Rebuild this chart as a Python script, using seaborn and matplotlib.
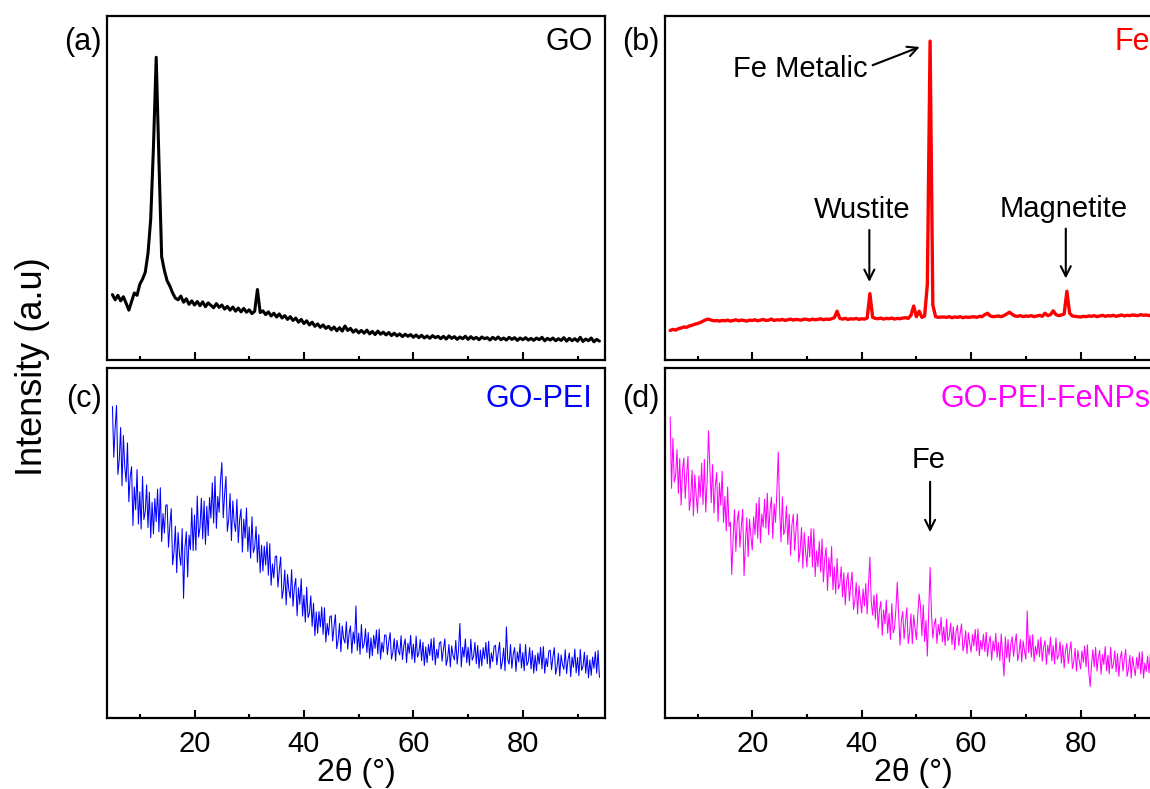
import numpy as np
import pandas as pd
import seaborn as sns
import matplotlib.pyplot as plt
from matplotlib.ticker import MultipleLocator

sns.set_style("ticks")
plt.rcParams['font.family'] = ['Liberation Sans', 'DejaVu Sans']
plt.rcParams.update({"text.color": "black", "axes.labelcolor": "black",
                     "xtick.color": "black", "axes.edgecolor": "black"})

# 2theta grids (deg)
theta_coarse = np.arange(5, 94.01, 0.5)    # GO, Fe
theta_fine = np.arange(5, 94.01, 0.25)     # GO-PEI, GO-PEI-FeNPs

# intensities, in % of panel height
go = [19.0, 17.5, 18.8, 17.2, 18.4, 16.5, 14.5, 17.0, 19.5, 18.8,
      22.0, 23.5, 25.5, 31.0, 41.0, 62.0, 88.0, 58.0, 30.0, 26.0,
      23.0, 21.5, 19.5, 18.0, 17.5, 18.6, 16.8, 17.8, 16.2, 17.2,
      16.0, 17.0, 15.8, 16.9, 15.5, 16.6, 15.9, 15.2, 16.4, 15.3,
      16.0, 14.8, 15.6, 14.5, 15.4, 14.2, 15.1, 14.0, 15.0, 13.9,
      14.6, 13.5, 14.2, 20.5, 13.8, 14.3, 13.2, 14.0, 12.8, 13.6,
      12.5, 13.4, 12.2, 12.9, 11.8, 12.6, 11.5, 12.2, 11.0, 11.8,
      10.6, 11.4, 10.2, 11.0, 9.8, 10.5, 9.5, 10.2, 9.2, 9.8,
      8.8, 9.6, 8.5, 9.4, 8.4, 9.9, 8.6, 9.2, 8.1, 8.8,
      7.9, 8.6, 7.8, 8.7, 7.6, 8.3, 7.4, 8.4, 7.5, 8.1,
      7.3, 8.0, 7.1, 7.8, 7.0, 7.6, 6.8, 7.5, 6.9, 7.4,
      6.6, 7.3, 6.5, 7.2, 6.4, 7.0, 6.3, 7.1, 6.5, 6.9,
      6.2, 6.9, 6.1, 7.0, 6.3, 6.8, 6.0, 6.7, 6.2, 6.9,
      6.0, 6.8, 6.1, 6.6, 5.9, 6.7, 6.2, 6.5, 5.8, 6.6,
      6.0, 6.7, 5.9, 6.4, 5.8, 6.6, 6.0, 6.5, 5.7, 6.4,
      5.9, 6.5, 5.8, 6.3, 5.7, 6.4, 5.9, 6.6, 5.6, 6.3,
      5.8, 6.4, 5.6, 6.2, 5.7, 6.5, 5.5, 6.3, 5.6, 6.2,
      5.5, 6.6, 5.4, 6.1, 5.6, 6.4, 5.3, 6.0, 5.5]

fe = [8.6, 8.9, 8.7, 9.1, 9.3, 9.6, 9.5, 9.9, 10.1, 10.4,
      10.6, 10.9, 11.3, 11.7, 11.9, 11.6, 11.4, 11.5, 11.3, 11.5,
      11.4, 11.6, 11.3, 11.5, 11.7, 11.4, 11.6, 11.5, 11.3, 11.6,
      11.5, 11.7, 11.4, 11.6, 11.8, 11.5, 11.6, 11.9, 11.5, 11.7,
      11.6, 11.8, 11.5, 11.7, 11.9, 11.6, 11.8, 11.7, 11.6, 11.9,
      11.8, 11.6, 11.9, 11.7, 11.8, 12.0, 11.7, 11.9, 11.8, 12.0,
      12.3, 14.2, 12.1, 11.9, 12.1, 11.8, 12.0, 11.9, 12.1, 11.8,
      12.0, 11.9, 12.2, 19.3, 12.4, 12.1, 12.0, 12.2, 11.9, 12.1,
      12.0, 12.2, 11.9, 12.1, 12.0, 12.2, 12.3, 12.1, 13.0, 15.7,
      12.6, 14.2, 12.4, 12.8, 22.0, 92.7, 16.0, 12.6, 12.4, 12.5,
      12.5, 12.4, 12.6, 12.3, 12.5, 12.4, 12.6, 12.3, 12.5, 12.4,
      12.5, 12.6, 12.4, 12.7, 12.6, 13.2, 13.6, 12.8, 12.6, 12.7,
      12.8, 12.6, 12.9, 13.4, 13.9, 13.3, 12.8, 12.7, 12.9, 12.6,
      12.8, 12.7, 12.9, 12.6, 12.8, 13.0, 12.7, 13.6, 12.9, 13.2,
      14.3, 13.2, 12.9, 13.1, 13.4, 20.0, 13.6, 12.8, 12.7, 12.6,
      12.5, 12.7, 12.6, 12.8, 12.7, 12.9, 12.6, 12.8, 13.0, 12.7,
      12.9, 12.8, 13.0, 12.7, 12.9, 13.1, 12.8, 13.0, 12.9, 13.1,
      13.0, 12.9, 13.2, 13.0, 13.1, 12.9, 13.2, 13.0, 13.1]

go_pei = [89.0, 74.5, 83.0, 89.3, 69.6, 73.8, 83.0, 66.3, 80.7, 71.8,
          67.5, 78.6, 61.8, 69.0, 71.8, 55.0, 66.0, 59.5, 71.0, 55.4,
          64.6, 54.0, 69.0, 56.7, 58.9, 66.6, 54.4, 64.5, 51.5, 61.6,
          52.6, 62.7, 56.1, 65.4, 53.2, 65.8, 50.4, 58.4, 52.8, 60.8,
          60.9, 48.8, 55.1, 59.8, 43.8, 47.3, 54.8, 41.5, 53.0, 46.7,
          43.6, 54.1, 34.2, 48.6, 53.2, 40.3, 52.2, 48.1, 60.0, 47.8,
          58.0, 47.9, 63.4, 51.7, 54.4, 62.8, 51.2, 62.0, 49.6, 60.5,
          52.1, 63.0, 57.1, 67.2, 55.7, 69.0, 54.2, 63.3, 58.8, 67.8,
          73.0, 57.2, 63.9, 69.0, 53.3, 56.7, 64.1, 50.7, 62.0, 55.8,
          53.3, 62.5, 50.1, 56.7, 59.7, 47.4, 56.8, 51.4, 60.0, 47.6,
          54.6, 45.7, 57.5, 47.3, 48.7, 54.7, 44.5, 52.4, 41.5, 49.4,
          42.0, 49.1, 43.7, 50.3, 40.8, 49.8, 37.9, 44.0, 40.0, 46.1,
          46.3, 37.4, 42.3, 46.0, 34.1, 36.7, 42.3, 32.3, 41.0, 36.5,
          34.3, 42.4, 31.9, 37.4, 39.9, 29.2, 37.2, 32.5, 39.8, 29.1,
          35.1, 27.4, 37.4, 28.7, 29.9, 34.9, 26.2, 32.8, 23.5, 30.3,
          24.2, 30.4, 26.0, 31.7, 23.9, 31.5, 21.7, 27.0, 23.7, 29.0,
          29.2, 22.0, 26.2, 29.5, 19.8, 22.2, 27.0, 18.9, 26.3, 22.7,
          21.4, 27.5, 19.7, 24.1, 26.3, 18.5, 24.6, 21.3, 32.0, 19.3,
          24.2, 18.2, 26.7, 19.9, 21.1, 25.5, 18.7, 24.4, 17.1, 22.9,
          17.8, 23.6, 19.9, 25.1, 18.3, 25.4, 16.8, 21.6, 18.8, 23.7,
          23.7, 18.1, 21.7, 24.4, 16.8, 18.8, 22.7, 16.3, 22.2, 19.3,
          18.0, 23.5, 16.7, 20.6, 22.6, 15.8, 21.4, 18.5, 23.6, 16.8,
          21.1, 15.8, 23.4, 17.4, 18.5, 22.4, 16.4, 21.6, 15.0, 20.3,
          15.8, 21.0, 17.9, 22.6, 16.5, 22.9, 15.2, 19.6, 17.1, 21.4,
          21.8, 16.2, 19.8, 22.6, 15.0, 17.0, 21.0, 14.6, 20.6, 17.8,
          16.6, 22.2, 15.4, 19.4, 27.0, 14.6, 20.2, 17.4, 22.6, 15.8,
          20.2, 15.0, 22.5, 16.5, 17.6, 21.6, 15.5, 20.7, 14.2, 19.4,
          14.9, 20.1, 16.9, 21.6, 15.5, 21.9, 14.2, 18.6, 16.1, 20.4,
          20.8, 15.2, 18.8, 21.6, 14.0, 16.0, 20.0, 13.5, 26.0, 16.6,
          15.4, 21.0, 14.2, 18.2, 20.1, 13.3, 18.9, 16.0, 21.2, 14.3,
          18.7, 13.5, 21.0, 15.0, 16.1, 20.1, 14.0, 19.2, 12.8, 17.9,
          13.5, 18.6, 15.4, 20.2, 14.0, 20.4, 12.8, 17.1, 14.7, 19.1,
          19.4, 13.8, 17.4, 20.1, 12.5, 14.5, 18.5, 12.0, 18.0, 15.2,
          13.9, 19.5, 12.7, 16.6, 18.6, 11.8, 17.4, 14.5, 19.7, 12.9,
          17.3, 12.1, 19.6, 13.6, 14.8, 18.8, 12.8, 17.9, 11.5, 16.6,
          12.2, 17.4, 14.2, 18.9, 12.8, 19.3, 11.6]

go_pei_fenps = [86.0, 65.6, 80.0, 67.4, 69.2, 76.7, 64.2, 74.1, 60.8, 70.8,
                74.3, 62.7, 69.4, 74.7, 59.3, 63.0, 70.8, 57.7, 69.5, 63.6,
                58.6, 69.2, 63.1, 72.8, 61.0, 73.9, 58.8, 67.6, 82.0, 71.4,
                61.5, 72.4, 58.6, 66.3, 70.1, 56.2, 67.2, 60.8, 70.5, 55.9,
                63.3, 53.4, 66.0, 54.7, 56.0, 41.0, 51.1, 59.5, 47.6, 56.1,
                59.1, 48.8, 54.7, 59.6, 40.6, 50.0, 57.2, 46.1, 56.8, 52.0,
                48.0, 57.5, 52.4, 61.3, 51.3, 63.0, 50.1, 58.3, 54.6, 62.5,
                54.2, 64.2, 52.4, 59.5, 63.1, 51.3, 61.2, 55.9, 64.7, 76.0,
                59.8, 50.3, 63.2, 52.4, 54.1, 60.6, 49.6, 58.2, 46.5, 55.1,
                58.2, 47.9, 53.8, 58.3, 44.6, 47.7, 54.4, 42.8, 53.0, 47.7,
                43.2, 51.9, 46.0, 54.1, 43.2, 54.0, 40.4, 47.7, 43.2, 50.5,
                41.7, 51.2, 38.9, 45.5, 48.7, 36.4, 45.8, 40.4, 49.0, 36.6,
                43.2, 35.5, 45.6, 36.9, 38.1, 43.2, 34.6, 41.5, 32.3, 39.2,
                41.5, 33.5, 38.0, 41.7, 31.0, 33.5, 38.7, 29.7, 37.7, 33.6,
                30.0, 36.9, 32.0, 38.4, 29.7, 38.2, 46.0, 33.1, 29.4, 35.1,
                28.2, 35.5, 25.7, 30.9, 33.3, 23.6, 30.9, 26.9, 33.7, 24.2,
                29.9, 22.5, 32.7, 24.3, 25.7, 31.1, 38.8, 29.7, 20.8, 27.9,
                30.4, 22.6, 27.4, 31.5, 21.3, 24.2, 29.8, 21.2, 29.4, 25.6,
                22.4, 29.6, 35.4, 31.8, 23.5, 32.3, 21.9, 27.9, 17.7, 30.6,
                43.0, 29.9, 22.8, 26.6, 28.4, 21.3, 26.7, 23.7, 28.8, 21.8,
                26.0, 20.7, 28.2, 22.1, 23.2, 27.1, 21.0, 26.0, 19.5, 24.6,
                26.5, 20.7, 24.2, 26.9, 19.2, 21.0, 24.9, 18.4, 24.3, 21.3,
                18.8, 23.9, 20.6, 25.3, 19.2, 25.5, 17.8, 22.1, 19.6, 23.9,
                19.0, 24.5, 17.6, 21.5, 23.4, 16.5, 22.0, 19.1, 24.2, 17.3,
                21.6, 16.4, 24.0, 18.0, 12.0, 23.2, 17.2, 22.4, 16.0, 21.2,
                23.2, 17.6, 21.2, 24.0, 16.4, 18.4, 22.4, 16.0, 22.0, 19.2,
                16.8, 30.6, 18.7, 23.5, 17.4, 23.8, 16.1, 20.5, 18.0, 22.4,
                17.5, 23.1, 16.2, 20.2, 22.1, 15.3, 20.8, 18.0, 23.1, 16.3,
                20.7, 15.4, 22.9, 16.8, 17.9, 21.8, 15.7, 20.8, 14.3, 19.4,
                21.3, 15.6, 19.1, 21.8, 14.1, 16.0, 19.9, 13.4, 19.3, 16.4,
                14.0, 19.2, 15.9, 20.6, 14.6, 20.9, 13.2, 9.0, 15.2, 19.5,
                14.6, 20.2, 13.4, 17.3, 19.3, 12.5, 18.1, 15.3, 20.4, 13.5,
                17.9, 12.6, 20.2, 14.1, 15.3, 19.2, 13.2, 18.4, 11.9, 17.1,
                19.0, 13.4, 16.9, 19.6, 11.9, 13.9, 17.9, 11.4, 17.4, 14.6,
                12.1, 17.3, 14.0, 18.8, 12.6, 19.0, 11.4, 15.7, 13.3, 17.7,
                12.9, 18.4, 11.5, 15.4, 17.5, 10.6, 16.1]

panels = [
    ("(a)", "GO", theta_coarse, go, "black", 2.2),
    ("(b)", "Fe", theta_coarse, fe, "red", 2.4),
    ("(c)", "GO-PEI", theta_fine, go_pei, "blue", 0.75),
    ("(d)", "GO-PEI-FeNPs", theta_fine, go_pei_fenps, "magenta", 0.75),
]

fig = plt.figure(figsize=(11.5, 7.89), dpi=100)
rects = [
    [0.093, 0.5437, 0.433, 0.436],
    [0.578, 0.5437, 0.433, 0.436],
    [0.093, 0.090, 0.433, 0.4436],
    [0.578, 0.090, 0.433, 0.4436],
]

axes = []
for i, (tag, name, xs, vals, col, lw) in enumerate(panels):
    ax = fig.add_axes(rects[i])
    df = pd.DataFrame({"theta": xs, "I": vals})
    sns.lineplot(data=df, x="theta", y="I", ax=ax, color=col, linewidth=lw,
                 estimator=None, sort=False)
    ax.set_xlim(4, 95)
    ax.set_ylim(0, 100)
    ax.set_xlabel("")
    ax.set_ylabel("")
    ax.set_yticks([])
    ax.xaxis.set_major_locator(MultipleLocator(20))
    ax.xaxis.set_minor_locator(MultipleLocator(10))
    ax.tick_params(axis="x", which="major", direction="in", length=6, width=1.5,
                   labelsize=21, pad=9)
    ax.tick_params(axis="x", which="minor", direction="in", length=3, width=1.5)
    for sp in ax.spines.values():
        sp.set_visible(True)
        sp.set_linewidth(1.6)
    if i < 2:
        ax.tick_params(axis="x", labelbottom=False)
    else:
        ax.set_xlabel("2θ (°)", fontsize=23, labelpad=0)
    ax.text(-0.011, 0.925 if i < 2 else 0.912, tag, transform=ax.transAxes,
            ha="right", va="center", fontsize=22)
    ax.text(0.975, 0.925 if i < 2 else 0.91, name, transform=ax.transAxes,
            ha="right", va="center", fontsize=22, color=col)
    axes.append(ax)

arrow = dict(arrowstyle="->", lw=1.5, color="black", mutation_scale=18,
             shrinkA=0, shrinkB=0)

ax_b = axes[1]
ax_b.text(28.7, 84.7, "Fe Metalic", ha="center", va="center", fontsize=21)
ax_b.annotate("", xy=(50.6, 91.0), xytext=(42.0, 85.7), arrowprops=arrow)
ax_b.text(40.0, 43.6, "Wustite", ha="center", va="center", fontsize=21)
ax_b.annotate("", xy=(41.4, 22.7), xytext=(41.4, 37.8), arrowprops=arrow)
ax_b.text(76.9, 44.0, "Magnetite", ha="center", va="center", fontsize=21)
ax_b.annotate("", xy=(77.3, 23.7), xytext=(77.3, 38.2), arrowprops=arrow)

ax_d = axes[3]
ax_d.text(52.2, 73.7, "Fe", ha="center", va="center", fontsize=21)
ax_d.annotate("", xy=(52.5, 53.1), xytext=(52.5, 67.5), arrowprops=arrow)

fig.text(0.028, 0.535, "Intensity (a.u)", rotation=90, ha="center", va="center",
         fontsize=26)

fig.savefig("out.png", dpi=100)
